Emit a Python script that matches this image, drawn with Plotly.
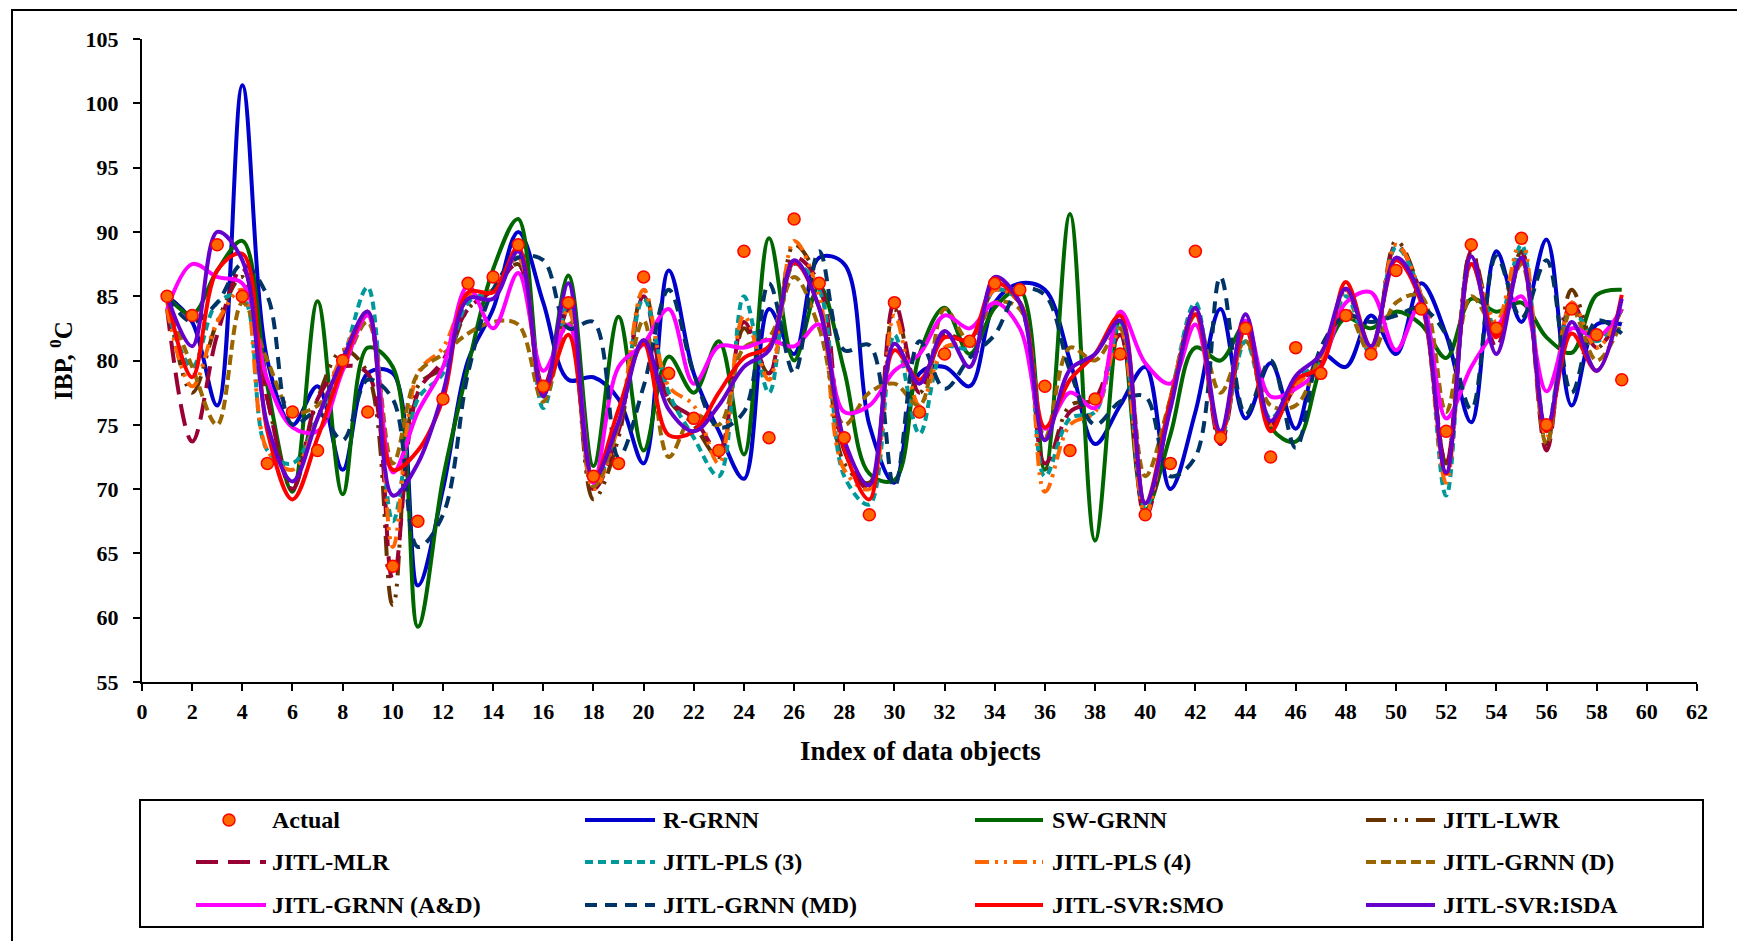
import plotly.graph_objects as go

# ---------------- data ----------------
idx = list(range(1, 60))

actual = [85, 83.5, 89, 85, 72, 76, 73, 80, 76, 64, 67.5, 77, 86, 86.5, 89, 78, 84.5, 71, 72, 86.5,
          79, 75.5, 73, 88.5, 74, 91, 86, 74, 68, 84.5, 76, 80.5, 81.5, 86, 85.5, 78, 73, 77, 80.5, 68,
          72, 88.5, 74, 82.5, 72.5, 81, 79, 83.5, 80.5, 87, 84, 74.5, 89, 82.5, 89.5, 75, 84, 82, 78.5]

r_grnn = [85, 83, 76.5, 101.4, 80, 75, 78, 71.5, 79, 79, 62.5, 70, 80, 84, 90, 84.5, 78.5, 78.7, 77, 72,
          87, 79, 74.5, 70.8, 84, 80.5, 88, 87.5, 75, 70.5, 79, 79.5, 78, 84.5, 86, 85.5, 80, 73.5, 76.5, 79.5,
          70, 76, 84, 75.5, 79.8, 74.7, 80.5, 79.5, 83.5, 80.5, 86, 82, 75.2, 88.5, 83, 89.4, 76.5, 82.8, 82.8]

sw_grnn = [85, 83.6, 87, 89.3, 78, 69.8, 84.6, 69.6, 81, 79.5, 59.3, 70.8, 79.5, 87.1, 91, 77.2, 86.6, 71.8, 83.4, 73,
           80.3, 77.5, 81.5, 72.7, 89.5, 80, 85.8, 79.2, 71.2, 70.7, 80.5, 84.1, 80.5, 84.1, 85.5, 71.5, 91.4, 66, 83.1, 68.4,
           74.2, 81, 80, 82.8, 74.8, 73.7, 79.5, 83.3, 82.5, 83.8, 82.8, 80.2, 84.8, 83.8, 84.5, 81.8, 80.6, 85.1, 85.5]

jitl_lwr = [85, 77.5, 83, 86.5, 77, 70, 77, 80.8, 79, 61, 78, 79.5, 84, 85.5, 87.5, 77.5, 84, 69.2, 74, 85.5,
            77, 75, 72.5, 82.5, 79, 89, 86, 72, 70.5, 84, 77.5, 82, 81.5, 85.5, 84.5, 71.5, 76.5, 77, 82, 68,
            77, 84, 74, 82.5, 75, 78, 80, 85.5, 80.5, 89.3, 85, 72, 88.5, 82, 88.5, 73.5, 85.5, 81, 84]

jitl_mlr = [84, 73.7, 82, 87.2, 77, 70, 77, 79.5, 79, 63, 77.5, 80, 84, 85.5, 87.5, 78, 84, 70, 74.5, 85,
            77, 75.5, 73, 83, 79, 88, 86, 73, 70, 84.5, 77.5, 82, 81.5, 85.5, 84.5, 72, 76, 77, 82, 67.8,
            76.5, 84, 73.5, 82.5, 75, 78, 80, 85.5, 80.5, 89, 85, 72, 88.5, 81, 88.5, 73, 84.5, 81, 84]

jitl_pls3 = [84, 79.5, 84.5, 85, 73, 72, 75.5, 80, 85.7, 67.5, 77, 79, 84.5, 85.5, 88, 76.3, 84.5, 70.5, 75, 84.8,
             77.5, 74, 71, 85, 77.5, 87.5, 85.5, 71, 68.8, 82, 74.3, 81, 81, 85.5, 84.5, 71, 75.5, 76, 83, 68.5,
             77, 84.5, 74, 81.5, 75.5, 78.5, 80, 85, 80.5, 88.8, 85, 69.5, 87.5, 82.5, 89, 74.5, 84, 81.5, 84]

jitl_pls4 = [84, 78, 83, 85.5, 73, 71.5, 75.5, 80.5, 83.5, 65.5, 79, 81, 85, 85.5, 88, 77.5, 84, 70, 75, 85.5,
             78, 76.5, 72, 83.5, 78.5, 89.3, 85, 71.5, 70, 83.5, 76.5, 81, 81.5, 85.5, 84.5, 69.8, 75, 76, 82.5, 68,
             77, 84, 74, 82.5, 75, 78, 80, 85.5, 80.5, 89, 85, 70.5, 87.5, 83, 89.5, 74, 84.5, 81, 84]

jitl_grnn_d = [84.5, 79.5, 75, 84.5, 80, 76, 76.5, 79.5, 83, 72, 79, 80.5, 82.1, 83, 82.8, 76.8, 83.1, 70.2, 75, 83.1,
               72.5, 75.8, 75, 81, 81.8, 86.5, 82.5, 75, 77.5, 78.2, 76.5, 84, 81.5, 84.5, 84, 74, 81, 80, 82.5, 71,
               77, 83.5, 77.5, 81.5, 76.5, 76.5, 80.5, 84, 80.5, 84.5, 85, 76, 85, 82.5, 87.5, 73.5, 84, 80, 83]

jitl_grnn_ad = [84, 87.5, 86.5, 86, 78.5, 74.8, 74.5, 79.2, 83.5, 71.3, 76, 79.5, 85.8, 82.5, 86.8, 79.2, 82.8, 70.5, 79.5, 81.3,
                84, 78.2, 81.1, 81, 81.6, 81.1, 82.8, 76, 76.5, 79.2, 80.5, 83.5, 82.5, 84.5, 82.5, 74.7, 77.5, 76.3, 83.8, 79.8,
                78.2, 82.8, 74.3, 83.1, 77.2, 77.8, 79.5, 84.5, 85.3, 80.8, 84.5, 75.5, 79.5, 82.5, 85, 77.6, 82.5, 81.8, 84]

jitl_grnn_md = [85, 83, 84.5, 87.5, 85, 75, 76, 73.8, 78.5, 77, 65.5, 68, 79, 85.5, 88, 87.8, 82.5, 83, 72.5, 78,
                85.5, 79, 74.8, 76, 86, 79, 88.5, 80.8, 81.2, 70.2, 81.5, 77.8, 80.2, 82, 85.5, 85.1, 79.2, 75, 76.8, 77.2,
                71, 72.5, 86.5, 75.8, 80, 73.2, 81, 83.5, 83, 83.5, 84.1, 82, 76.2, 88.1, 83.3, 87.8, 77.5, 83.1, 82.1]

jitl_svr_smo = [85, 78.7, 87, 88.3, 74.5, 69.2, 74, 79.5, 83.8, 71.5, 73, 77, 85.3, 85.3, 88.8, 77.5, 82, 70.8, 76.2, 81.3,
                74.2, 74.5, 77.5, 80.2, 81.1, 87.6, 84.1, 73.2, 69.2, 80.8, 78.5, 81.8, 81.6, 86, 84.5, 74.8, 78.5, 80.5, 83.5, 68.9,
                76.8, 83.6, 74.2, 82.8, 74.5, 78.5, 79.5, 86.1, 81.1, 87.8, 84.5, 71.2, 87.5, 81.8, 87.8, 74.5, 82.1, 79.2, 85.1]

jitl_svr_isda = [85, 81.1, 90, 87.8, 75, 70.6, 75.5, 80.1, 83.8, 69.5, 72, 77.5, 84.8, 84.8, 88.5, 77.2, 86, 70.8, 75.2, 81.6,
                 76.2, 74.5, 76.5, 79.5, 80.8, 87.8, 84.1, 73.8, 70.3, 81.3, 78.2, 82.3, 79.5, 86.5, 84.5, 73.8, 79.3, 80.5, 83.1, 68.9,
                 76.2, 84.1, 74.5, 83.6, 75.3, 78.8, 80.5, 85.6, 81.1, 88, 84.8, 71.3, 88.1, 80.5, 88, 74.7, 83, 79.2, 84.8]

x_ticks = list(range(0, 63, 2))
y_ticks = list(range(55, 106, 5))

# ---------------- styling ----------------
W, H = 1737, 941
ML, MR, MT, MB = 142, 40, 39, 259
PW = W - ML - MR
PH = H - MT - MB
FONT = "Liberation Serif"
LW = 4


def fx(px):
    return (px - ML) / PW


def fy(py):
    return (H - MB - py) / PH


series = [
    ("R-GRNN", r_grnn, "#0000CC", "solid"),
    ("SW-GRNN", sw_grnn, "#006600", "solid"),
    ("JITL-LWR", jitl_lwr, "#663300", "20px,8px,3px,8px,3px,8px"),
    ("JITL-MLR", jitl_mlr, "#990033", "22px,10px"),
    ("JITL-PLS (3)", jitl_pls3, "#009999", "8px,5px"),
    ("JITL-PLS (4)", jitl_pls4, "#FF6600", "14px,6px,3px,6px,3px,6px"),
    ("JITL-GRNN (D)", jitl_grnn_d, "#996600", "10px,5px"),
    ("JITL-GRNN (A&D)", jitl_grnn_ad, "#FF00FF", "solid"),
    ("JITL-GRNN (MD)", jitl_grnn_md, "#003366", "12px,8px"),
    ("JITL-SVR:SMO", jitl_svr_smo, "#FF0000", "solid"),
    ("JITL-SVR:ISDA", jitl_svr_isda, "#6600CC", "solid"),
]
style = {name: (color, dash) for name, _, color, dash in series}

fig = go.Figure()
for name, vals, color, dash in series:
    fig.add_trace(go.Scatter(
        x=idx, y=vals, mode="lines", name=name, showlegend=False,
        line=dict(color=color, width=LW, dash=dash, shape="spline", smoothing=1.0),
    ))

fig.add_trace(go.Scatter(
    x=idx, y=actual, mode="markers", name="Actual", showlegend=False,
    marker=dict(symbol="circle", size=12, color="#FF6600",
                line=dict(color="#FF0000", width=1.5)),
))

# ---------------- legend box (3 rows x 4 columns) ----------------
legend_rows = [
    ["Actual", "R-GRNN", "SW-GRNN", "JITL-LWR"],
    ["JITL-MLR", "JITL-PLS (3)", "JITL-PLS (4)", "JITL-GRNN (D)"],
    ["JITL-GRNN (A&D)", "JITL-GRNN (MD)", "JITL-SVR:SMO", "JITL-SVR:ISDA"],
]
col_lines = [(196, 266), (585, 655), (975, 1043), (1366, 1435)]
col_text = [270, 661, 1050, 1441]
row_y = [820, 862, 905]

shapes = [
    # outer frame
    dict(type="rect", xref="paper", yref="paper",
         x0=fx(12), x1=fx(W + 20), y0=fy(H + 20), y1=fy(10),
         line=dict(color="black", width=2), fillcolor="rgba(0,0,0,0)", layer="below"),
    # legend frame
    dict(type="rect", xref="paper", yref="paper",
         x0=fx(140), x1=fx(1703), y0=fy(927), y1=fy(800),
         line=dict(color="black", width=2), fillcolor="rgba(0,0,0,0)"),
]
annotations = []
for r, row in enumerate(legend_rows):
    for c, name in enumerate(row):
        yy = row_y[r]
        if name == "Actual":
            cx = 229
            shapes.append(dict(type="circle", xref="paper", yref="paper",
                               x0=fx(cx - 6), x1=fx(cx + 6), y0=fy(yy + 6), y1=fy(yy - 6),
                               fillcolor="#FF6600", line=dict(color="#FF0000", width=1.5)))
        else:
            color, dash = style[name]
            x0, x1 = col_lines[c]
            shapes.append(dict(type="line", xref="paper", yref="paper",
                               x0=fx(x0), x1=fx(x1), y0=fy(yy), y1=fy(yy),
                               line=dict(color=color, width=LW, dash=dash)))
        annotations.append(dict(
            text=name, xref="paper", yref="paper", x=fx(col_text[c]), y=fy(yy),
            xanchor="left", yanchor="middle", showarrow=False,
            font=dict(family=FONT, size=24, color="black", weight="bold")))

# axis titles
annotations.append(dict(
    text="Index of data objects", xref="paper", yref="paper",
    x=fx(920), y=fy(751), xanchor="center", yanchor="middle", showarrow=False,
    font=dict(family=FONT, size=27, color="black", weight="bold")))
annotations.append(dict(
    text="IBP, <sup>0</sup>C", xref="paper", yref="paper",
    x=fx(61), y=fy(361), xanchor="center", yanchor="middle", showarrow=False,
    textangle=-90, font=dict(family=FONT, size=25, color="black", weight="bold")))

axis_common = dict(
    showline=True, linecolor="black", linewidth=2,
    ticks="outside", ticklen=7, tickwidth=2, tickcolor="black",
    showgrid=False, zeroline=False,
    tickfont=dict(family=FONT, size=22, color="black", weight="bold"),
)

fig.update_layout(
    width=W, height=H,
    margin=dict(l=ML, r=MR, t=MT, b=MB, pad=0),
    paper_bgcolor="white", plot_bgcolor="white",
    showlegend=False,
    xaxis=dict(range=[0, 62], tickmode="array", tickvals=x_ticks,
               ticktext=[str(v) for v in x_ticks], ticklabelstandoff=2, **axis_common),
    yaxis=dict(range=[55, 105], tickmode="array", tickvals=y_ticks,
               ticktext=[str(v) for v in y_ticks], ticklabelstandoff=10, **axis_common),
    shapes=shapes,
    annotations=annotations,
)

fig.write_html("out.html")
